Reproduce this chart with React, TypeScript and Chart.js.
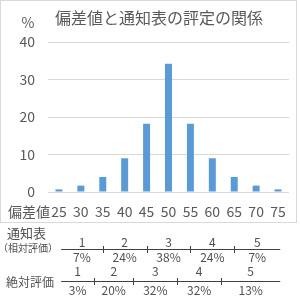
import React, { useEffect, useRef } from "react";
import { Chart, registerables } from "chart.js";

Chart.register(...registerables);

const titleText = "偏差値と通知表の評定の関係";
const categories = ["25", "30", "35", "40", "45", "50", "55", "60", "65", "70", "75"];
const percentValues = [0.7, 1.7, 4, 9, 18.2, 34.2, 18.2, 9, 4, 1.7, 0.7];
const yTicks = [0, 10, 20, 30, 40];

const grades = ["1", "2", "3", "4", "5"];
const relativePct = ["7%", "24%", "38%", "24%", "7%"];
const relativeBounds = [35, 45, 55, 65];
const absolutePct = ["3%", "20%", "32%", "32%", "13%"];
const absoluteBounds = [33, 42, 52, 62];
const rangeStart = 25.5;
const rangeEnd = 75.5;

const FONT = "'Noto Sans CJK JP', 'Noto Sans', sans-serif";
const GRAY = "#595959";

export default function App() {
  const ref = useRef<HTMLCanvasElement | null>(null);

  useEffect(() => {
    if (!ref.current) return;
    const overlay = {
      id: "overlay",
      afterDraw(chart: any) {
        const ctx = chart.ctx;
        const xs = chart.scales.x;
        const px = (v: number) => xs.getPixelForValue((v - 25) / 5);
        ctx.save();
        // border
        ctx.strokeStyle = "#d9d9d9";
        ctx.lineWidth = 1;
        ctx.strokeRect(0.5, 0.5, 296, 222);
        // title
        ctx.fillStyle = GRAY;
        ctx.textAlign = "center";
        ctx.textBaseline = "middle";
        ctx.font = `16px ${FONT}`;
        ctx.fillText(titleText, 159, 18);
        ctx.font = `14px ${FONT}`;
        ctx.fillText("%", 28, 23);
        ctx.textAlign = "left";
        ctx.fillText("偏差値", 8, 212);

        const drawRow = (
          bounds: number[],
          pcts: string[],
          lineY: number,
          topY: number,
          botY: number
        ) => {
          const edges = [rangeStart, ...bounds, rangeEnd].map(px);
          ctx.strokeStyle = "#404040";
          ctx.lineWidth = 1;
          ctx.beginPath();
          ctx.moveTo(edges[0], lineY + 0.5);
          ctx.lineTo(edges[edges.length - 1], lineY + 0.5);
          for (let i = 1; i < edges.length - 1; i++) {
            const x = Math.round(edges[i]) + 0.5;
            ctx.moveTo(x, lineY - 3);
            ctx.lineTo(x, lineY + 4);
          }
          ctx.stroke();
          ctx.fillStyle = "#505050";
          ctx.textAlign = "center";
          ctx.font = `12px ${FONT}`;
          for (let i = 0; i < grades.length; i++) {
            const cx = (edges[i] + edges[i + 1]) / 2;
            ctx.fillText(grades[i], cx, topY);
            ctx.fillText(pcts[i], cx, botY);
          }
        };
        drawRow(relativeBounds, relativePct, 249, 242, 257);
        drawRow(absoluteBounds, absolutePct, 281, 271, 290);

        ctx.fillStyle = "#505050";
        ctx.textAlign = "left";
        ctx.font = `13px ${FONT}`;
        ctx.fillText("通知表", 7, 233);
        ctx.font = `10px ${FONT}`;
        ctx.fillText("（相対評価）", -2, 248);
        ctx.font = `12px ${FONT}`;
        ctx.fillText("絶対評価", 6, 282);
        ctx.restore();
      },
    };

    const chart = new Chart(ref.current, {
      type: "bar",
      data: {
        labels: categories,
        datasets: [
          {
            data: percentValues,
            backgroundColor: "#5B9BD5",
            barPercentage: 0.55,
            categoryPercentage: 0.58,
          },
        ],
      },
      options: {
        animation: false,
        responsive: false,
        devicePixelRatio: 1,
        layout: { padding: { left: 0, right: 11, top: 42, bottom: 0 } },
        plugins: {
          legend: { display: false },
          title: { display: false },
          tooltip: { enabled: false },
        },
        scales: {
          x: {
            grid: { display: false, drawTicks: false },
            border: { display: false },
            ticks: {
              color: GRAY,
              font: { family: FONT, size: 14 },
              padding: 11,
              maxRotation: 0,
              autoSkip: false,
            },
            afterFit: (s: any) => {
              s.height = 108;
            },
          },
          y: {
            min: 0,
            max: 40,
            afterBuildTicks: (s: any) => {
              s.ticks = yTicks.map((v) => ({ value: v }));
            },
            grid: { color: "#d9d9d9", drawTicks: false },
            border: { display: false },
            ticks: {
              color: GRAY,
              font: { family: FONT, size: 14 },
              padding: 13,
            },
            afterFit: (s: any) => {
              s.width = 48;
            },
          },
        },
      },
      plugins: [overlay],
    });
    return () => chart.destroy();
  }, []);

  return (
    <div style={{ position: "absolute", left: 0, top: 0, width: 300, height: 300, background: "#fff" }}>
      <canvas ref={ref} width={300} height={300} style={{ display: "block" }} />
    </div>
  );
}
